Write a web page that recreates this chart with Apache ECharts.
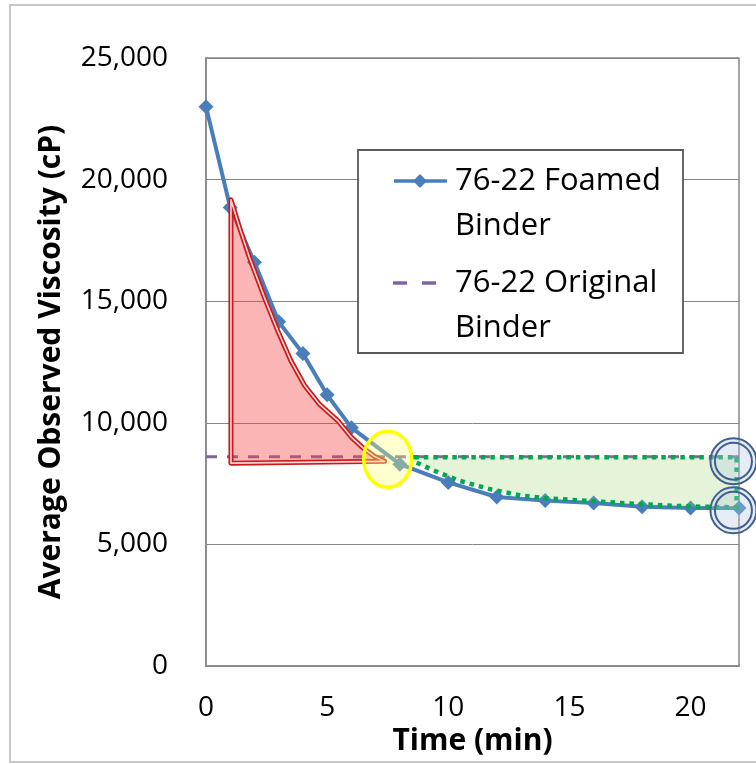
<!DOCTYPE html>
<html><head><meta charset="utf-8">
<script src="https://cdn.jsdelivr.net/npm/echarts@6/dist/echarts.min.js"></script>
<style>html,body{margin:0;padding:0;background:#fff}#c{width:756px;height:764px}</style>
</head><body><div id="c"></div>
<script>
// ---- data ----
const timeMin = [0, 1, 2, 3, 4, 5, 6, 8, 10, 12, 14, 16, 18, 20, 22];
const foamedViscosity = [23000, 18850, 16600, 14150, 12850, 11150, 9800, 8300, 7550, 6950, 6800, 6700, 6550, 6500, 6500];
const originalTime = [0, 22];
const originalViscosity = [8600, 8600];
const seriesNames = ['76-22 Foamed Binder', '76-22 Original Binder'];
const xTicks = [0, 5, 10, 15, 20];
const yTicks = [0, 5000, 10000, 15000, 20000, 25000];
const xAxisTitle = 'Time (min)';
const yAxisTitle = 'Average Observed Viscosity (cP)';
// annotation outlines (data units)
const redAreaX = [1.03, 1.40, 1.81, 2.43, 2.96, 3.50, 4.07, 4.69, 5.47, 6.01, 6.50, 6.95, 7.37, 1.03];
const redAreaY = [19170, 17980, 16750, 15105, 13790, 12560, 11535, 10755, 10055, 9400, 8950, 8620, 8415, 8340];
const greenAreaX = [8.6, 21.9, 21.9, 19.92, 17.98, 15.93, 14.03, 13.05, 11.69, 10.45, 9.5, 8.6];
const greenAreaY = [8580, 8580, 6525, 6560, 6650, 6780, 6900, 7000, 7280, 7620, 8000, 8400];
const yellowMarkX = [7.5];
const yellowMarkY = [8500];
const blueMarkX = [21.77, 21.77];
const blueMarkY = [8420, 6400];

const FONT = '"Open Sans", "Noto Sans", sans-serif';
const BLUE = '#4a7ebb';
const PURPLE = '#8064a2';

const chart = echarts.init(document.getElementById('c'), null, {renderer: 'canvas'});

function pts(api, xs, ys) { return xs.map((x, i) => api.coord([x, ys[i]])); }

const legendLines = seriesNames.map(s => s.replace(' Binder', '\nBinder'));

const option = {
  backgroundColor: '#ffffff',
  animation: false,
  grid: {left: 206, right: 17, top: 58, bottom: 98, show: true, borderColor: '#868686', borderWidth: 1.5, containLabel: false},
  xAxis: {
    type: 'value', min: 0, max: 22, interval: 5,
    name: xAxisTitle, nameLocation: 'middle', nameGap: 57,
    nameTextStyle: {fontFamily: FONT, fontSize: 30, fontWeight: 'bold', color: '#000'},
    axisLine: {show: true, lineStyle: {color: '#868686', width: 1.5}},
    axisTick: {show: false},
    splitLine: {show: false},
    axisLabel: {fontFamily: FONT, fontSize: 28, color: '#000', margin: 28, showMaxLabel: false,
      formatter: v => xTicks.includes(v) ? String(v) : ''}
  },
  yAxis: {
    type: 'value', min: 0, max: 25000, interval: 5000,
    name: yAxisTitle, nameLocation: 'middle', nameGap: 140, nameRotate: 90,
    nameTextStyle: {fontFamily: FONT, fontSize: 30, fontWeight: 'bold', color: '#000'},
    axisLine: {show: true, lineStyle: {color: '#868686', width: 1.5}},
    axisTick: {show: false},
    splitLine: {show: true, lineStyle: {color: '#868686', width: 1}},
    axisLabel: {fontFamily: FONT, fontSize: 28, color: '#000', margin: 38,
      formatter: v => yTicks.includes(v) ? v.toLocaleString('en-US') : ''}
  },
  series: [
    {
      name: seriesNames[0], type: 'line', z: 3,
      data: timeMin.map((t, i) => [t, foamedViscosity[i]]),
      symbol: 'diamond', symbolSize: 15, showAllSymbol: true,
      lineStyle: {color: BLUE, width: 4},
      itemStyle: {color: BLUE}
    },
    {
      name: seriesNames[1], type: 'line', z: 2,
      data: originalTime.map((t, i) => [t, originalViscosity[i]]),
      symbol: 'none',
      lineStyle: {color: PURPLE, width: 3, type: [11, 10]}
    },
    {
      type: 'custom', z: 5, clip: false, silent: true,
      data: [[redAreaX[0], redAreaY[0]]],
      renderItem: (params, api) => {
        const p = pts(api, redAreaX, redAreaY);
        return {type: 'group', children: [
          {type: 'polygon', shape: {points: p}, style: {fill: 'rgba(245,70,70,0.4)', stroke: '#c81a1a', lineWidth: 5, lineJoin: 'round'}},
          {type: 'polygon', shape: {points: p}, style: {fill: 'none', stroke: '#fcd3d3', lineWidth: 1.6, lineJoin: 'round'}}
        ]};
      }
    },
    {
      type: 'custom', z: 6, clip: false, silent: true,
      data: [[greenAreaX[0], greenAreaY[0]]],
      renderItem: (params, api) => {
        const p = pts(api, greenAreaX, greenAreaY);
        return {type: 'polygon', shape: {points: p},
          style: {fill: 'rgba(150,210,100,0.25)', stroke: '#00a84f', lineWidth: 4.5, lineDash: [4.5, 5]}};
      }
    },
    {
      type: 'custom', z: 7, clip: false, silent: true,
      data: yellowMarkX.map((x, i) => [x, yellowMarkY[i]]),
      renderItem: (params, api) => {
        const c = api.coord([api.value(0), api.value(1)]);
        return {type: 'ellipse', shape: {cx: c[0], cy: c[1], rx: 24, ry: 28},
          style: {fill: 'rgba(255,255,120,0.35)', stroke: '#ffff00', lineWidth: 3.5}};
      }
    },
    {
      type: 'custom', z: 8, clip: false, silent: true,
      data: blueMarkX.map((x, i) => [x, blueMarkY[i]]),
      renderItem: (params, api) => {
        const c = api.coord([api.value(0), api.value(1)]);
        return {type: 'group', children: [
          {type: 'circle', shape: {cx: c[0], cy: c[1], r: 23}, style: {fill: 'rgba(180,200,230,0.35)', stroke: '#3f5f8f', lineWidth: 2}},
          {type: 'circle', shape: {cx: c[0], cy: c[1], r: 18.5}, style: {fill: 'none', stroke: '#3f5f8f', lineWidth: 2}}
        ]};
      }
    }
  ],
  graphic: [
    {type: 'rect', z: -10, silent: true, shape: {x: 10, y: 5, width: 780, height: 757}, style: {fill: 'none', stroke: '#c8c8c8', lineWidth: 2}},
    {type: 'rect', z: 50, silent: true, shape: {x: 358, y: 150, width: 325, height: 203}, style: {fill: '#fff', stroke: '#595959', lineWidth: 1.8}},
    {type: 'line', z: 51, silent: true, shape: {x1: 394, y1: 181, x2: 447, y2: 181}, style: {stroke: BLUE, lineWidth: 3.5}},
    {type: 'polygon', z: 52, silent: true, shape: {points: [[420, 174], [427, 181], [420, 188], [413, 181]]}, style: {fill: BLUE}},
    {type: 'text', z: 51, silent: true, x: 455, y: 158.5, style: {text: legendLines[0], font: '31px ' + FONT, fill: '#000', lineHeight: 45, verticalAlign: 'top'}},
    {type: 'line', z: 51, silent: true, shape: {x1: 393, y1: 283, x2: 440, y2: 283}, style: {stroke: PURPLE, lineWidth: 3.5, lineDash: [14, 15]}},
    {type: 'text', z: 51, silent: true, x: 455, y: 260.5, style: {text: legendLines[1], font: '31px ' + FONT, fill: '#000', lineHeight: 45, verticalAlign: 'top'}}
  ]
};
chart.setOption(option);
</script>
</body></html>
